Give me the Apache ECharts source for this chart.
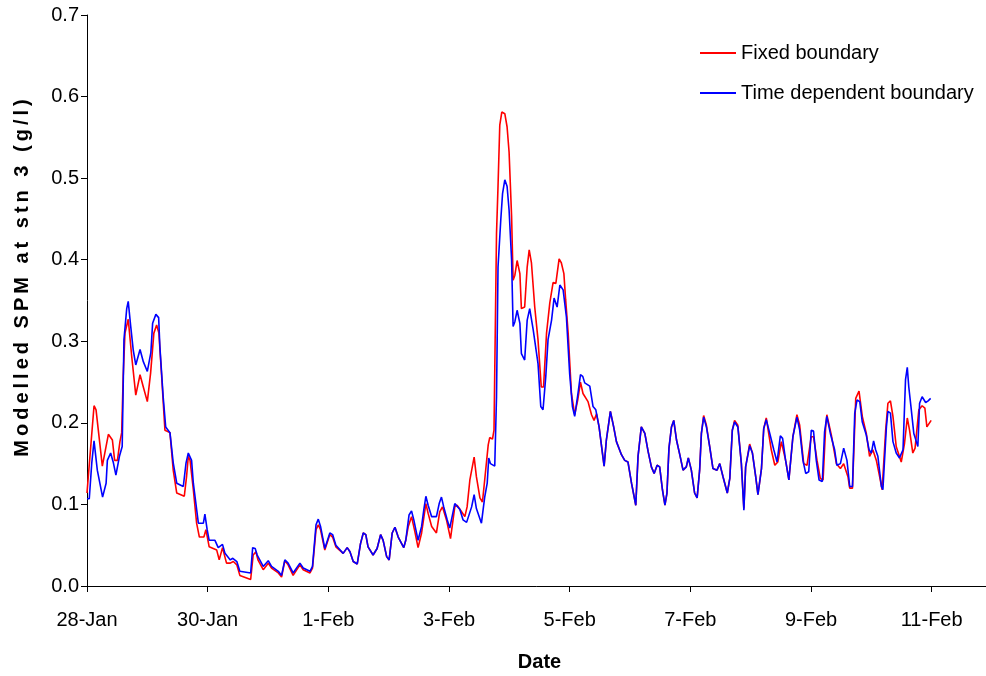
<!DOCTYPE html>
<html>
<head>
<meta charset="utf-8">
<script src="https://cdn.jsdelivr.net/npm/echarts@6/dist/echarts.min.js"></script>
<style>html,body{margin:0;padding:0;background:#fff}#c{width:986px;height:676px}</style>
</head>
<body>
<div id="c"></div>
<script>
// hours since 28-Jan 00:00, value in g/l
const tickLabels = ['28-Jan','30-Jan','1-Feb','3-Feb','5-Feb','7-Feb','9-Feb','11-Feb'];
const seriesNames = ['Fixed boundary','Time dependent boundary'];
const xTitle = 'Date';
const yTitle = 'Modelled SPM at stn 3 (g/l)';

const fixedBoundary = [[0,0.114],[2.8,0.221],[3.6,0.216],[4.5,0.191],[6.1,0.147],[8.5,0.186],[10.1,0.179],[11.0,0.154],[12.1,0.154],[13.1,0.177],[13.8,0.188],[14.4,0.257],[15.1,0.310],[16.4,0.327],[17.8,0.281],[19.4,0.234],[21.1,0.259],[22.4,0.244],[24.0,0.226],[25.3,0.261],[26.6,0.310],[27.7,0.320],[28.6,0.310],[29.7,0.257],[31.0,0.191],[33.0,0.188],[34.3,0.142],[35.7,0.114],[38.7,0.110],[39.6,0.134],[40.3,0.159],[41.0,0.154],[42.3,0.118],[43.6,0.077],[44.7,0.060],[46.5,0.060],[47.3,0.069],[48.6,0.048],[51.6,0.044],[52.6,0.032],[53.9,0.047],[55.5,0.028],[57.0,0.028],[58.2,0.030],[59.6,0.026],[60.8,0.013],[65.1,0.008],[66.1,0.038],[67.2,0.042],[68.0,0.032],[70.1,0.020],[72.1,0.028],[73.4,0.022],[76.1,0.016],[77.4,0.011],[78.7,0.031],[80.0,0.026],[82.0,0.013],[84.7,0.026],[86.0,0.020],[88.7,0.016],[89.7,0.022],[91.1,0.069],[92.0,0.075],[92.9,0.069],[94.6,0.044],[96.6,0.063],[97.7,0.060],[99.0,0.048],[101.9,0.040],[103.5,0.047],[104.6,0.042],[105.9,0.030],[107.5,0.027],[108.8,0.052],[109.9,0.065],[110.9,0.063],[111.8,0.048],[113.8,0.038],[115.4,0.046],[116.8,0.063],[117.8,0.056],[119.2,0.036],[120.2,0.032],[121.4,0.065],[122.5,0.072],[123.8,0.060],[126.0,0.047],[126.8,0.056],[127.8,0.073],[129.1,0.085],[130.4,0.067],[131.7,0.047],[133.1,0.065],[134.8,0.101],[135.7,0.089],[137.1,0.073],[139.0,0.065],[140.3,0.091],[141.4,0.097],[143.0,0.081],[144.6,0.058],[146.3,0.097],[147.2,0.099],[149.0,0.091],[150.3,0.085],[151.2,0.097],[152.3,0.130],[154.0,0.158],[154.9,0.134],[156.3,0.108],[157.3,0.103],[158.2,0.130],[159.6,0.173],[160.2,0.182],[161.3,0.180],[161.9,0.191],[162.9,0.432],[163.5,0.490],[164.2,0.565],[165.0,0.581],[166.2,0.579],[167.1,0.563],[167.9,0.532],[168.9,0.453],[169.5,0.375],[170.2,0.381],[171.1,0.399],[172.2,0.383],[172.8,0.340],[174.1,0.342],[175.1,0.391],[175.9,0.412],[176.8,0.396],[178.1,0.342],[179.4,0.302],[180.7,0.244],[181.6,0.244],[182.8,0.310],[184.1,0.347],[185.4,0.372],[186.5,0.371],[187.8,0.401],[188.7,0.396],[189.7,0.383],[190.4,0.351],[191.4,0.310],[192.7,0.236],[194.0,0.210],[195.2,0.228],[196.3,0.250],[197.3,0.236],[199.3,0.226],[200.7,0.210],[201.7,0.203],[202.7,0.211],[203.7,0.195],[205.7,0.147],[206.6,0.179],[208.2,0.214],[209.5,0.195],[210.6,0.177],[212.6,0.161],[213.9,0.154],[215.2,0.152],[216.6,0.126],[218.3,0.099],[219.2,0.159],[220.5,0.195],[221.9,0.187],[223.2,0.165],[224.5,0.146],[225.6,0.138],[226.8,0.148],[227.8,0.146],[228.9,0.118],[229.9,0.099],[230.7,0.114],[231.5,0.169],[232.5,0.195],[233.4,0.203],[234.5,0.179],[235.8,0.161],[237.1,0.142],[238.4,0.146],[239.2,0.157],[240.4,0.142],[241.7,0.114],[242.7,0.108],[243.7,0.142],[244.4,0.187],[245.3,0.209],[246.4,0.197],[247.7,0.171],[249.0,0.144],[250.6,0.142],[251.7,0.150],[253.0,0.134],[254.7,0.114],[255.7,0.132],[256.7,0.191],[257.6,0.203],[258.9,0.197],[260.3,0.150],[261.3,0.095],[262.0,0.146],[263.6,0.174],[264.7,0.163],[266.0,0.134],[266.9,0.112],[268.3,0.144],[269.2,0.193],[270.2,0.206],[272.2,0.167],[273.6,0.148],[274.8,0.152],[276.2,0.177],[277.9,0.154],[279.2,0.130],[280.8,0.183],[282.4,0.210],[283.5,0.197],[285.1,0.150],[286.4,0.148],[288.1,0.183],[289.0,0.183],[290.4,0.154],[291.7,0.132],[292.8,0.130],[293.8,0.193],[294.3,0.210],[296.1,0.185],[298.1,0.150],[299.7,0.144],[301.0,0.150],[302.7,0.134],[303.4,0.120],[304.5,0.120],[305.8,0.230],[307.1,0.239],[308.4,0.208],[310.0,0.187],[311.3,0.159],[312.6,0.167],[314.0,0.154],[315.3,0.134],[316.3,0.118],[317.7,0.191],[318.6,0.224],[319.6,0.227],[320.6,0.208],[321.9,0.171],[323.9,0.152],[325.2,0.175],[326.3,0.206],[327.2,0.191],[328.5,0.163],[329.4,0.169],[330.1,0.167],[330.9,0.216],[332.2,0.221],[333.3,0.218],[334.1,0.195],[335.8,0.203]];

const timeDependentBoundary = [[0,0.107],[0.9,0.107],[1.9,0.151],[2.8,0.178],[4.1,0.142],[6.2,0.109],[7.6,0.126],[8.1,0.154],[9.4,0.163],[10.5,0.151],[11.5,0.136],[12.9,0.159],[14.0,0.171],[14.7,0.302],[15.8,0.340],[16.4,0.349],[17.4,0.318],[18.4,0.289],[19.4,0.271],[21.1,0.290],[22.4,0.275],[24.0,0.263],[25.4,0.286],[26.1,0.322],[27.4,0.333],[28.5,0.329],[29.0,0.293],[30.3,0.232],[31.3,0.195],[33.0,0.188],[34.3,0.151],[35.7,0.126],[38.3,0.122],[39.4,0.151],[40.3,0.163],[41.6,0.154],[42.3,0.126],[44.3,0.077],[46.3,0.077],[46.9,0.088],[47.8,0.069],[48.6,0.056],[50.9,0.056],[52.2,0.047],[53.9,0.051],[54.9,0.040],[57.0,0.032],[58.0,0.034],[59.6,0.030],[60.8,0.018],[65.1,0.016],[65.9,0.047],[66.9,0.046],[67.7,0.038],[70.1,0.024],[72.1,0.031],[73.4,0.024],[76.1,0.018],[77.4,0.013],[78.7,0.032],[80.0,0.028],[82.0,0.016],[84.7,0.028],[86.0,0.022],[88.7,0.018],[89.7,0.024],[91.1,0.075],[92.0,0.082],[92.9,0.073],[94.6,0.046],[96.6,0.065],[97.7,0.063],[99.0,0.050],[101.9,0.040],[103.5,0.047],[104.6,0.042],[105.9,0.030],[107.5,0.027],[108.8,0.052],[109.9,0.065],[110.9,0.063],[111.8,0.048],[113.8,0.038],[115.4,0.046],[116.8,0.063],[117.8,0.056],[119.2,0.036],[120.2,0.032],[121.4,0.065],[122.5,0.072],[123.8,0.060],[126.0,0.047],[126.8,0.056],[128.1,0.087],[129.1,0.092],[130.0,0.081],[131.7,0.056],[133.1,0.073],[134.0,0.094],[134.8,0.110],[135.7,0.099],[137.1,0.085],[139.0,0.085],[140.1,0.101],[141.0,0.109],[141.9,0.097],[143.3,0.081],[144.3,0.071],[146.3,0.101],[148.3,0.094],[149.6,0.081],[151.0,0.078],[153.0,0.097],[154.0,0.112],[154.9,0.095],[156.9,0.077],[158.2,0.109],[159.2,0.126],[159.8,0.157],[160.5,0.150],[162.2,0.147],[162.9,0.232],[163.5,0.391],[164.6,0.449],[165.3,0.481],[166.2,0.498],[167.1,0.490],[167.9,0.461],[168.9,0.400],[169.5,0.318],[170.2,0.324],[171.1,0.338],[172.2,0.322],[172.8,0.285],[174.1,0.277],[175.1,0.326],[176.1,0.340],[177.5,0.314],[179.4,0.273],[180.5,0.220],[181.4,0.216],[182.5,0.257],[183.4,0.302],[184.8,0.326],[185.8,0.353],[187.0,0.342],[188.1,0.369],[189.4,0.363],[190.7,0.330],[192.0,0.260],[193.1,0.220],[194.0,0.208],[195.3,0.236],[196.3,0.259],[197.2,0.257],[198.0,0.249],[200.0,0.245],[201.3,0.220],[202.4,0.216],[203.7,0.195],[205.7,0.147],[206.6,0.179],[208.2,0.214],[209.5,0.195],[210.6,0.177],[212.6,0.161],[213.9,0.154],[215.2,0.152],[216.6,0.126],[218.3,0.099],[219.2,0.159],[220.5,0.195],[221.9,0.187],[223.2,0.165],[224.5,0.146],[225.6,0.138],[226.8,0.148],[227.8,0.146],[228.9,0.118],[229.9,0.099],[230.7,0.114],[231.5,0.169],[232.5,0.195],[233.4,0.203],[234.5,0.179],[235.8,0.161],[237.1,0.142],[238.4,0.146],[239.2,0.157],[240.4,0.142],[241.7,0.114],[242.7,0.108],[243.7,0.142],[244.4,0.187],[245.3,0.207],[246.4,0.195],[247.7,0.171],[249.0,0.144],[250.6,0.142],[251.7,0.150],[253.0,0.134],[254.7,0.114],[255.7,0.132],[256.7,0.191],[257.6,0.201],[258.9,0.195],[260.3,0.150],[261.3,0.093],[262.0,0.146],[263.6,0.172],[264.7,0.163],[266.0,0.134],[266.9,0.112],[268.3,0.144],[269.2,0.193],[270.2,0.204],[271.6,0.187],[273.2,0.167],[274.5,0.152],[275.8,0.184],[276.7,0.181],[277.9,0.154],[279.2,0.130],[280.8,0.183],[282.4,0.207],[283.5,0.191],[284.8,0.154],[285.9,0.138],[287.1,0.140],[288.1,0.191],[289.0,0.190],[290.1,0.154],[291.2,0.130],[292.5,0.128],[293.4,0.189],[294.3,0.208],[295.7,0.187],[297.4,0.167],[298.3,0.148],[299.7,0.150],[301.0,0.169],[302.3,0.154],[303.4,0.122],[304.5,0.122],[305.4,0.212],[306.3,0.228],[307.4,0.226],[308.4,0.201],[310.0,0.185],[311.1,0.167],[312.0,0.163],[312.9,0.178],[313.7,0.167],[314.6,0.159],[316.0,0.122],[316.6,0.118],[318.0,0.195],[318.6,0.214],[319.6,0.212],[320.6,0.177],[321.9,0.163],[323.2,0.157],[324.6,0.167],[325.6,0.253],[326.3,0.268],[326.9,0.244],[327.9,0.216],[328.9,0.187],[329.9,0.177],[330.5,0.171],[331.2,0.224],[332.2,0.232],[333.6,0.225],[334.6,0.227],[335.6,0.230]];

// the original y-axis title is drawn with wide letter spacing; apply it to that text only
(function () {
  const proto = CanvasRenderingContext2D.prototype;
  const orig = proto.fillText;
  proto.fillText = function (t) {
    if (t === yTitle && 'letterSpacing' in this) {
      this.letterSpacing = '4px';
      const f = this.font;
      this.font = f;
      const r = orig.apply(this, arguments);
      this.letterSpacing = '0px';
      this.font = f;
      return r;
    }
    if ('letterSpacing' in this && this.letterSpacing !== '0px') {
      this.letterSpacing = '0px';
    }
    return orig.apply(this, arguments);
  };
})();

const FONT = 'Liberation Sans';
const chart = echarts.init(document.getElementById('c'), null, {renderer: 'canvas'});
chart.setOption({
  animation: false,
  backgroundColor: '#ffffff',
  grid: {left: 87, top: 15, width: 905, height: 571, containLabel: false, outerBoundsMode: 'none'},
  legend: {
    orient: 'vertical', left: 695, top: 38, itemGap: 20,
    icon: 'rect', itemWidth: 36, itemHeight: 2,
    textStyle: {fontFamily: FONT, fontSize: 20, color: '#000'},
    data: seriesNames
  },
  graphic: [{
    type: 'text', x: 22, y: 276, rotation: Math.PI / 2,
    style: {text: yTitle, fill: '#000', align: 'center', verticalAlign: 'middle',
      font: 'bold 20px "Liberation Sans"'}
  }],
  xAxis: {
    type: 'value', min: 0, max: 360, interval: 48,
    name: xTitle, nameLocation: 'middle', nameGap: 66,
    nameTextStyle: {fontFamily: FONT, fontSize: 20, fontWeight: 'bold', color: '#000'},
    axisLine: {lineStyle: {color: '#000', width: 1}},
    axisTick: {show: true, inside: false, length: 6, lineStyle: {color: '#000'}},
    axisLabel: {margin: 24, fontFamily: FONT, fontSize: 20, color: '#000',
      formatter: v => tickLabels[Math.round(v / 48)] || ''},
    splitLine: {show: false}
  },
  yAxis: {
    type: 'value', min: 0, max: 0.7, interval: 0.1,
    axisLine: {show: true, lineStyle: {color: '#000', width: 1}},
    axisTick: {show: true, inside: false, length: 6, lineStyle: {color: '#000'}},
    axisLabel: {margin: 8, fontFamily: FONT, fontSize: 20, color: '#000',
      formatter: v => v.toFixed(1)},
    splitLine: {show: false}
  },
  series: [
    {name: seriesNames[0], type: 'line', data: fixedBoundary, showSymbol: false,
     color: '#ff0000', lineStyle: {color: '#ff0000', width: 1.6}},
    {name: seriesNames[1], type: 'line', data: timeDependentBoundary, showSymbol: false,
     color: '#0000ff', lineStyle: {color: '#0000ff', width: 1.6}}
  ]
});
</script>
</body>
</html>
